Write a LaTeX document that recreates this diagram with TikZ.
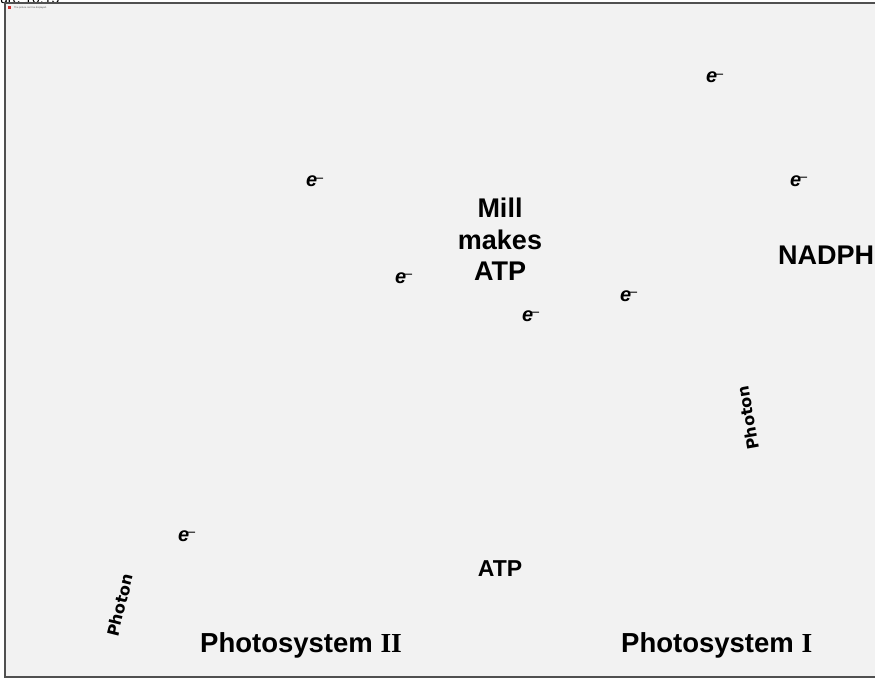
\documentclass[tikz,border=0pt]{standalone}
\usepackage{fontspec}
\setmainfont{Liberation Sans}
\newfontfamily\romanI{Liberation Serif}
\newfontfamily\photonfont{DejaVu Sans}
\definecolor{panel}{HTML}{F2F2F2}
\definecolor{rim}{HTML}{505050}
\definecolor{iconred}{HTML}{D03030}
% electron symbol: bold italic e with a thin superscript dash
\newcommand{\electron}{{\fontsize{20}{20}\selectfont\bfseries\itshape e}\kern-2.5pt\raisebox{4.2pt}{\fontsize{15}{15}\selectfont\normalfont –}}
\begin{document}
\begin{tikzpicture}[x=1pt,y=-1pt,
  label/.style={font=\fontsize{27}{31.5}\selectfont\bfseries, align=center, inner sep=0pt},
  pslabel/.style={font=\fontsize{27.5}{31.5}\selectfont\bfseries, inner sep=0pt, anchor=base west},
  smalllabel/.style={font=\fontsize{23}{27}\selectfont\bfseries, inner sep=0pt},
  elec/.style={inner sep=0pt, anchor=base west},
  photon/.style={font=\fontsize{16}{16}\selectfont\photonfont\bfseries, inner sep=0pt}]
\useasboundingbox (0,0) rectangle (875,679);
\clip (0,0) rectangle (875,679);

% caption fragment above the panel
\node[anchor=base west, inner sep=0pt, font=\fontsize{14}{14}\selectfont] (caption) at (0,3.5) {ure 10.15};

% grey panel
\draw[rim, line width=1.2pt, fill=panel] (5,3) rectangle (885,677);

% missing-picture placeholder marker
\fill[iconred] (8,6) rectangle (11,9);
\node[anchor=west, inner sep=0pt, font=\fontsize{2.4}{2.4}\selectfont, text=black!70] (missing) at (14,7.5) {The picture can't be displayed.};

% central labels
\node[label] (mill) at (500,239.5) {Mill\\makes\\ATP};
\node[label, anchor=base west] (nadph) at (778,264) {NADPH};
\node[smalllabel, anchor=base] (atp) at (500,576) {ATP};
\node[pslabel] (ps2) at (200,652) {Photosystem {\romanI\bfseries II}};
\node[pslabel] (ps1) at (621,652) {Photosystem {\romanI\bfseries I}};

% photons
\node[photon, rotate=76] (photonA) at (120,605) {Photon};
\node[photon, rotate=100] (photonB) at (748,418) {Photon};

% electrons
\node[elec] (e1) at (306,187) {\electron};
\node[elec] (e2) at (395,283) {\electron};
\node[elec] (e3) at (706,83) {\electron};
\node[elec] (e4) at (790,186) {\electron};
\node[elec] (e5) at (620,301) {\electron};
\node[elec] (e6) at (522,321) {\electron};
\node[elec] (e7) at (178,541) {\electron};
\end{tikzpicture}
\end{document}
